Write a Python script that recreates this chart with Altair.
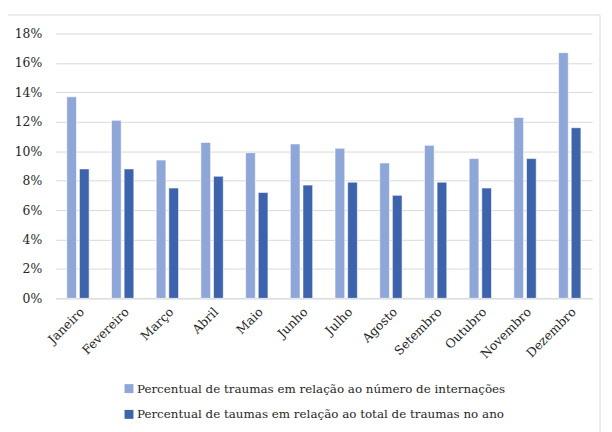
import altair as alt
import pandas as pd

months = ["Janeiro", "Fevereiro", "Março", "Abril", "Maio", "Junho", "Julho",
          "Agosto", "Setembro", "Outubro", "Novembro", "Dezembro"]
series = ["Percentual de traumas em relação ao número de internações",
          "Percentual de taumas em relação ao total de traumas no ano"]
internacoes = [13.7, 12.1, 9.4, 10.6, 9.9, 10.5, 10.2, 9.2, 10.4, 9.5, 12.3, 16.7]
total_ano = [8.8, 8.8, 7.5, 8.3, 7.2, 7.7, 7.9, 7.0, 7.9, 7.5, 9.5, 11.6]
colors = ["#8FA6D8", "#3C63AC"]
y_ticks = [0, 0.02, 0.04, 0.06, 0.08, 0.10, 0.12, 0.14, 0.16, 0.18]

rows = []
for m, a, b in zip(months, internacoes, total_ano):
    rows.append({"mes": m, "serie": series[0], "valor": a / 100})
    rows.append({"mes": m, "serie": series[1], "valor": b / 100})
df = pd.DataFrame(rows)

FONT = "DejaVu Serif"

bars = alt.Chart(df).mark_bar(stroke="white", strokeWidth=0.6).encode(
    x=alt.X("mes:N", sort=months, title=None,
            scale=alt.Scale(paddingInner=0.5, paddingOuter=0.25),
            axis=alt.Axis(labelAngle=-45, labelFontSize=12.5, labelFont=FONT,
                          labelColor="#262626", ticks=False, labelPadding=7,
                          domainColor="#D9D9D9", grid=False)),
    xOffset=alt.XOffset("serie:N", sort=series,
                        scale=alt.Scale(paddingInner=0.23)),
    y=alt.Y("valor:Q", title=None,
            scale=alt.Scale(domain=[0, 0.18]),
            axis=alt.Axis(values=y_ticks, format=".0%", labelFontSize=12.5,
                          labelFont=FONT, labelColor="#262626", ticks=False,
                          labelPadding=14, domain=False, gridColor="#D9D9D9")),
    color=alt.Color("serie:N", sort=series, title=None,
                    scale=alt.Scale(domain=series, range=colors),
                    legend=alt.Legend(orient="none", legendX=68, legendY=352,
                                      direction="vertical", symbolType="square",
                                      symbolSize=81, symbolStrokeWidth=0,
                                      labelFont=FONT, labelFontSize=12,
                                      labelColor="#262626", labelOffset=2,
                                      rowPadding=14, padding=0,
                                      labelLimit=500)),
)

frame = alt.Chart(pd.DataFrame({"a": [0]})).mark_rect(
    fill=None, stroke="#D9D9D9", strokeWidth=1).encode(
    x=alt.value(-50.3), x2=alt.value(549), y=alt.value(-18.7), y2=alt.value(420))

chart = alt.layer(frame, bars).properties(
    width=541, height=267,
    autosize=alt.AutoSizeParams(type="none"),
    padding={"left": 48, "top": 24, "right": 12, "bottom": 133},
).configure(font=FONT).configure_view(stroke=None)

chart.save("out.html", embed_options={"renderer": "svg", "actions": False})
